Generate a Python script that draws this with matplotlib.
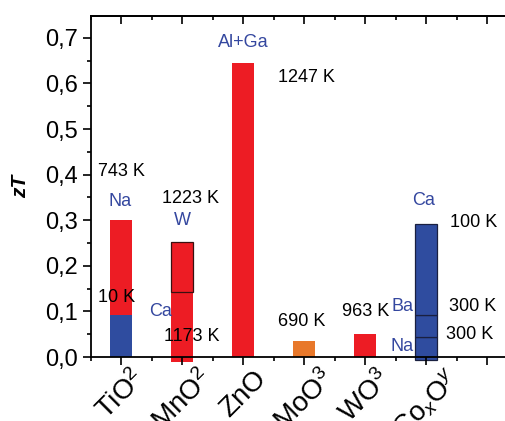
import matplotlib
matplotlib.use('Agg')
import matplotlib.pyplot as plt
from matplotlib.ticker import MultipleLocator, FuncFormatter

plt.rcParams['font.family'] = ['Liberation Sans', 'DejaVu Sans']
plt.rcParams['mathtext.fontset'] = 'custom'
plt.rcParams['mathtext.rm'] = 'Liberation Sans'
plt.rcParams['mathtext.it'] = 'Liberation Sans:italic'

# data (zT values)
compounds = ['TiO$^2$', 'MnO$^2$', 'ZnO', 'MoO$^3$', 'WO$^3$', 'Co$_x$O$^y$']
tio2_na = 0.300      # Na doped, 743 K
tio2_10k = 0.092     # 10 K
mno2_w = [0.142, 0.252]   # W doped, 1223 K
mno2_ca = [-0.011, 0.252] # Ca doped, 1173 K
zno_alga = 0.645     # Al+Ga, 1247 K
moo3 = 0.036         # 690 K
wo3 = 0.050          # 963 K
coxoy = [-0.007, 0.044, 0.092, 0.292]  # Na 300 K, Ba 300 K, Ca 100 K

red = '#ed1c24'
blue = '#2f4c9f'
orange = '#e8782a'
txtblue = '#34479f'

fig = plt.figure(figsize=(5.06, 4.21), dpi=100)
ax = fig.add_axes([0.1798, 0.152, 0.843, 0.81])

w = 0.36
ax.bar(1, tio2_na, width=w, color=red)
ax.bar(1, tio2_10k, width=w, color=blue)
ax.bar(2, mno2_ca[1] - mno2_ca[0], bottom=mno2_ca[0], width=w, color=red, clip_on=False)
ax.bar(2, mno2_w[1] - mno2_w[0], bottom=mno2_w[0], width=w, color='none',
       edgecolor='#3a1010', linewidth=0.9)
ax.bar(3, zno_alga, width=w, color=red)
ax.bar(4, moo3, width=w, color=orange)
ax.bar(5, wo3, width=w, color=red)
for b, t in zip(coxoy[:-1], coxoy[1:]):
    ax.bar(6, t - b, bottom=b, width=w, color=blue, edgecolor='#1a2040',
           linewidth=0.9, clip_on=False)

# annotations
black_labels = [('743 K', 0.62, 0.406), ('10 K', 0.62, 0.13), ('1223 K', 1.67, 0.347),
                ('1173 K', 1.70, 0.044), ('1247 K', 3.57, 0.612), ('690 K', 3.57, 0.077),
                ('963 K', 4.62, 0.099), ('100 K', 6.39, 0.296), ('300 K', 6.38, 0.11),
                ('300 K', 6.33, 0.05)]
for s, x, y in black_labels:
    ax.text(x, y, s, fontsize=13, color='black', ha='left', va='center')

blue_labels = [('Na', 0.97, 0.342, 'center'), ('W', 2.0, 0.30, 'center'),
               ('Ca', 1.64, 0.10, 'center'), ('Al+Ga', 3.0, 0.689, 'center'),
               ('Ca', 5.95, 0.344, 'center'), ('Ba', 5.80, 0.11, 'right'),
               ('Na', 5.79, 0.022, 'right')]
for s, x, y, ha in blue_labels:
    ax.text(x, y, s, fontsize=13, color=txtblue, ha=ha, va='center')

ax.set_xlim(0.5, 7.5)
ax.set_ylim(0, 0.748)
ax.set_xticks(range(1, 8))
ax.set_xticklabels(compounds + [''], rotation=45, ha='center', va='top', fontsize=20)
ax.xaxis.set_minor_locator(MultipleLocator(0.5))
ax.yaxis.set_major_locator(MultipleLocator(0.1))
ax.yaxis.set_minor_locator(MultipleLocator(0.05))
ax.yaxis.set_major_formatter(FuncFormatter(lambda v, p: ('%.1f' % v).replace('.', ',')))
ax.tick_params(axis='y', which='major', direction='out', length=6, width=1.2, labelsize=17)
ax.tick_params(axis='y', which='minor', direction='out', length=3, width=1.2)
ax.tick_params(axis='x', which='major', direction='out', length=6, width=1.2, pad=0)
ax.tick_params(axis='x', which='minor', direction='out', length=3, width=1.2)

# inward ticks along the top edge
top = ax.secondary_xaxis('top')
top.set_xticks(range(1, 8))
top.xaxis.set_minor_locator(MultipleLocator(0.5))
top.tick_params(which='major', direction='in', length=6, width=1.2, labeltop=False)
top.tick_params(which='minor', direction='in', length=3, width=1.2)
top.spines['top'].set_linewidth(1.3)

ax.set_ylabel('zT', fontsize=15, fontweight='bold', style='italic', labelpad=11)
for sp in ax.spines.values():
    sp.set_linewidth(1.3)

fig.savefig('out.png', dpi=100)
